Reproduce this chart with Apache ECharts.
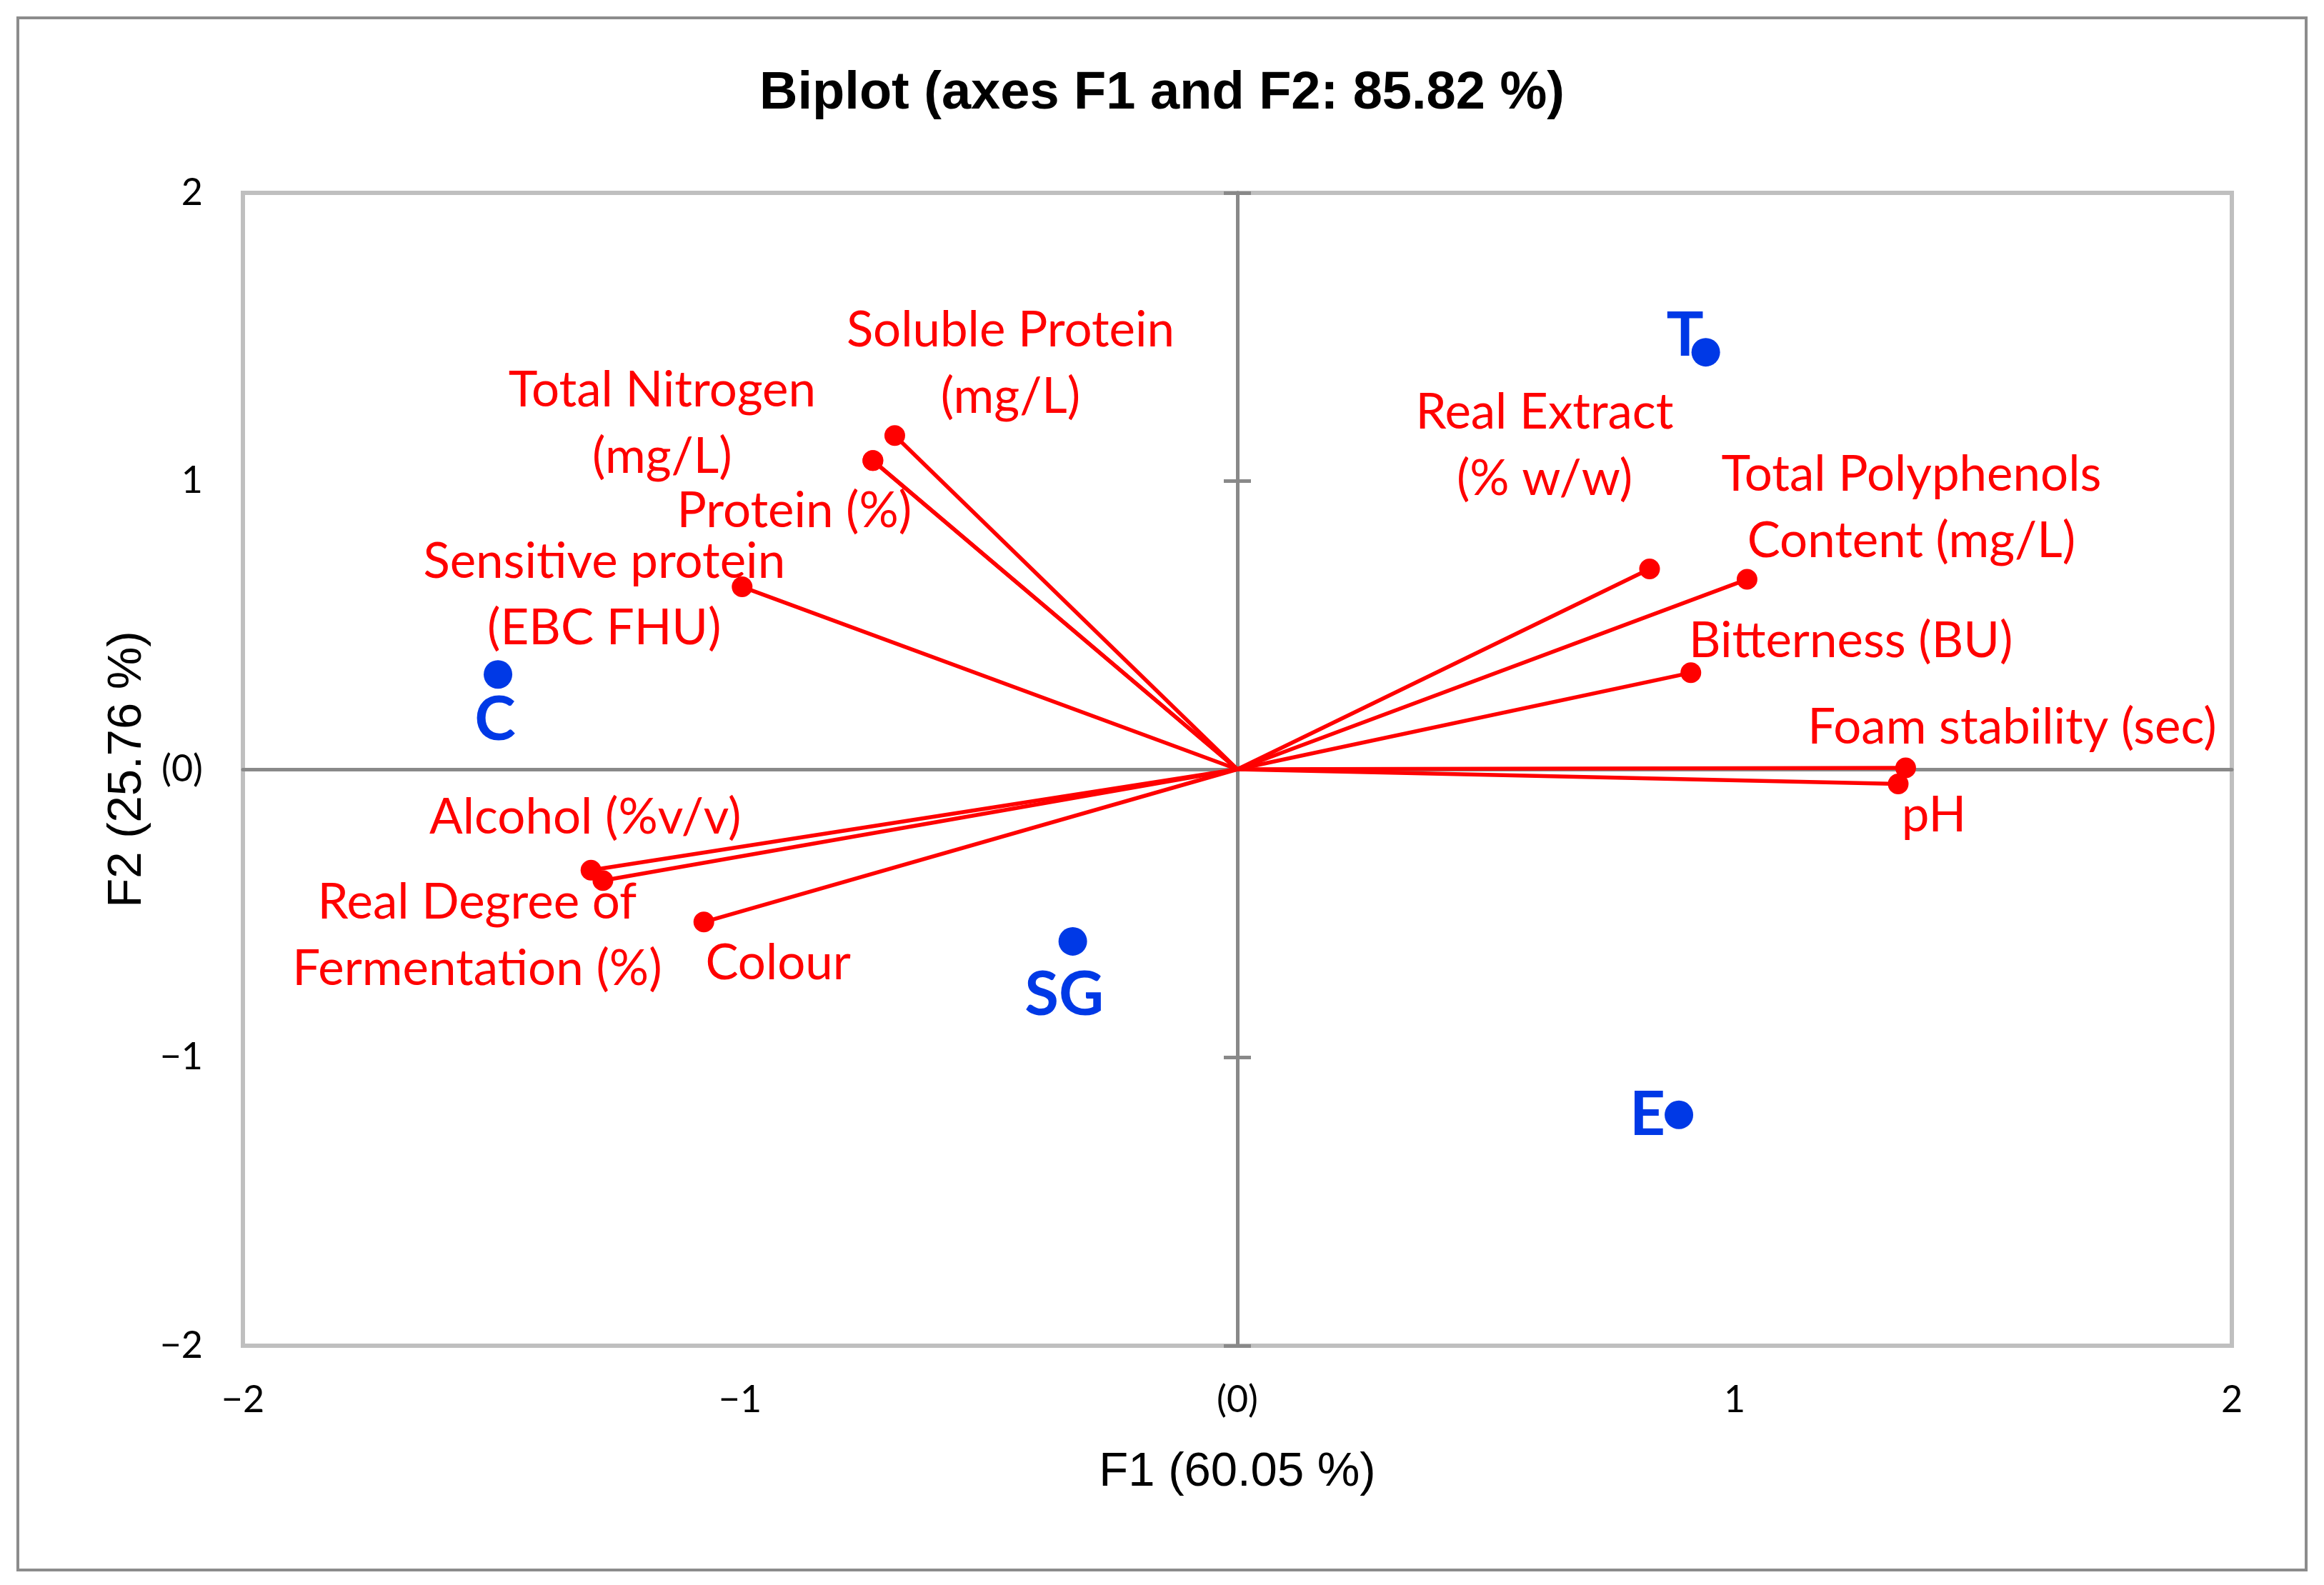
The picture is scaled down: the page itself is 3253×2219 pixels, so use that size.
<!DOCTYPE html>
<html>
<head>
<meta charset="utf-8">
<script src="https://cdn.jsdelivr.net/npm/echarts@6/dist/echarts.min.js"></script>
<style>
html,body{margin:0;padding:0;background:#ffffff;}
#chart{width:3253px;height:2219px;}
</style>
</head>
<body>
<div id="chart"></div>
<script>
// ---- data ----
const titleText = 'Biplot (axes F1 and F2: 85.82 %)';
const xAxisName = 'F1 (60.05 %)';
const yAxisName = 'F2 (25.76 %)';
const tickValues = [-2, -1, 0, 1, 2];

const varLabels = [
  'Soluble Protein\n(mg/L)',
  'Total Nitrogen\n(mg/L)',
  'Protein (%)',
  'Sensitive protein\n(EBC FHU)',
  'Alcohol (%v/v)',
  'Real Degree of\nFermentation (%)',
  'Colour',
  'Real Extract\n(% w/w)',
  'Total Polyphenols\nContent (mg/L)',
  'Bitterness (BU)',
  'Foam stability (sec)',
  'pH'
];
const varF1 = [-0.689, -0.733, -0.733, -0.996, -1.300, -1.276, -1.073, 0.829, 1.025, 0.912, 1.344, 1.329];
const varF2 = [1.158, 1.071, 1.071, 0.633, -0.350, -0.386, -0.530, 0.695, 0.659, 0.335, 0.005, -0.051];

const obsLabels = ['T', 'C', 'SG', 'E'];
const obsF1 = [0.942, -1.487, -0.331, 0.888];
const obsF2 = [1.447, 0.329, -0.597, -1.199];

// ---- layout (label offsets in px, not data) ----
const varLabelOffset = [
  [162, -100], [-295, -52], [-110, 71], [-193, 12], [-8, -73], [-176, 77],
  [104, 58], [-147, -172], [230, -100], [224, -44], [149, -56], [50, 44]
];
const obsLabelOffset = [[-29, -23], [-4, 64], [-12, 75], [-44, 0]];

const RED = '#ff0000';
const BLUE = '#0039e6';
const AXIS_GRAY = '#898989';

const fmt = v => v === 0 ? '(0)' : (v < 0 ? '\u2212' + Math.abs(v) : String(v));

const chart = echarts.init(document.getElementById('chart'), null, {renderer: 'canvas', devicePixelRatio: 1});

const vectorSeries = varF1.map((x, i) => ({
  type: 'line',
  name: 'vec' + i,
  data: [[0, 0], [x, varF2[i]]],
  symbol: 'none',
  lineStyle: {color: RED, width: 5.5, opacity: 1},
  z: 2,
  silent: true
}));

const tickLabelStyle = {fontFamily: 'Lato', fontSize: 52, color: '#000000'};
const nameStyle = {fontFamily: 'Liberation Sans', fontSize: 67, color: '#000000'};

const option = {
  animation: false,
  backgroundColor: '#ffffff',
  title: {
    text: titleText,
    left: 'center',
    top: 90,
    textStyle: {fontFamily: 'Liberation Sans', fontWeight: 'bold', fontSize: 74, color: '#000000'}
  },
  graphic: [{
    type: 'rect',
    shape: {x: 25, y: 25, width: 3203, height: 2173},
    style: {fill: 'none', stroke: '#8c8c8c', lineWidth: 4},
    silent: true,
    z: -10
  }],
  grid: {
    left: 340, top: 270, width: 2784, height: 1614,
    show: true, borderColor: '#bfbfbf', borderWidth: 6, backgroundColor: 'transparent'
  },
  xAxis: [
    {
      type: 'value', min: -2, max: 2, interval: 1, position: 'bottom',
      axisLine: {show: false, onZero: false}, axisTick: {show: false}, splitLine: {show: false},
      axisLabel: Object.assign({formatter: fmt, margin: 50}, tickLabelStyle),
      name: xAxisName, nameLocation: 'middle', nameGap: 144, nameTextStyle: nameStyle
    },
    {
      type: 'value', min: -2, max: 2, interval: 1,
      axisLine: {show: true, onZero: true, onZeroAxisIndex: 0, lineStyle: {color: AXIS_GRAY, width: 5}},
      axisTick: {show: false}, axisLabel: {show: false}, splitLine: {show: false}
    }
  ],
  yAxis: [
    {
      type: 'value', min: -2, max: 2, interval: 1, position: 'left',
      axisLine: {show: false, onZero: false}, axisTick: {show: false}, splitLine: {show: false},
      axisLabel: Object.assign({formatter: fmt, margin: 56}, tickLabelStyle),
      name: yAxisName, nameLocation: 'middle', nameGap: 128, nameTextStyle: nameStyle
    },
    {
      type: 'value', min: -2, max: 2, interval: 1, position: 'left',
      axisLine: {show: true, onZero: true, onZeroAxisIndex: 0, lineStyle: {color: AXIS_GRAY, width: 5}},
      axisTick: {show: true, length: 19, lineStyle: {color: AXIS_GRAY, width: 5}},
      axisLabel: {show: false}, splitLine: {show: false}
    },
    {
      type: 'value', min: -2, max: 2, interval: 1, position: 'right',
      axisLine: {show: true, onZero: true, onZeroAxisIndex: 0, lineStyle: {color: AXIS_GRAY, width: 5}},
      axisTick: {show: true, length: 19, lineStyle: {color: AXIS_GRAY, width: 5}},
      axisLabel: {show: false}, splitLine: {show: false}
    }
  ],
  series: vectorSeries.concat([
    {
      type: 'scatter',
      name: 'Variables',
      symbol: 'circle',
      symbolSize: 29,
      itemStyle: {color: RED, opacity: 1},
      z: 4,
      label: {
        show: true, position: 'inside', formatter: p => p.name, opacity: 1,
        fontFamily: 'Lato', fontSize: 69, lineHeight: 93, color: RED, align: 'center', verticalAlign: 'middle'
      },
      data: varF1.map((x, i) => ({name: varLabels[i], value: [x, varF2[i]], label: {offset: varLabelOffset[i]}}))
    },
    {
      type: 'scatter',
      name: 'Observations',
      symbol: 'circle',
      symbolSize: 40,
      itemStyle: {color: BLUE, opacity: 1},
      z: 4,
      label: {
        show: true, position: 'inside', formatter: p => p.name, opacity: 1,
        fontFamily: 'Lato', fontWeight: 'bold', fontSize: 87, color: BLUE, align: 'center', verticalAlign: 'middle'
      },
      data: obsF1.map((x, i) => ({name: obsLabels[i], value: [x, obsF2[i]], label: {offset: obsLabelOffset[i]}}))
    }
  ])
};

chart.setOption(option);
</script>
</body>
</html>
